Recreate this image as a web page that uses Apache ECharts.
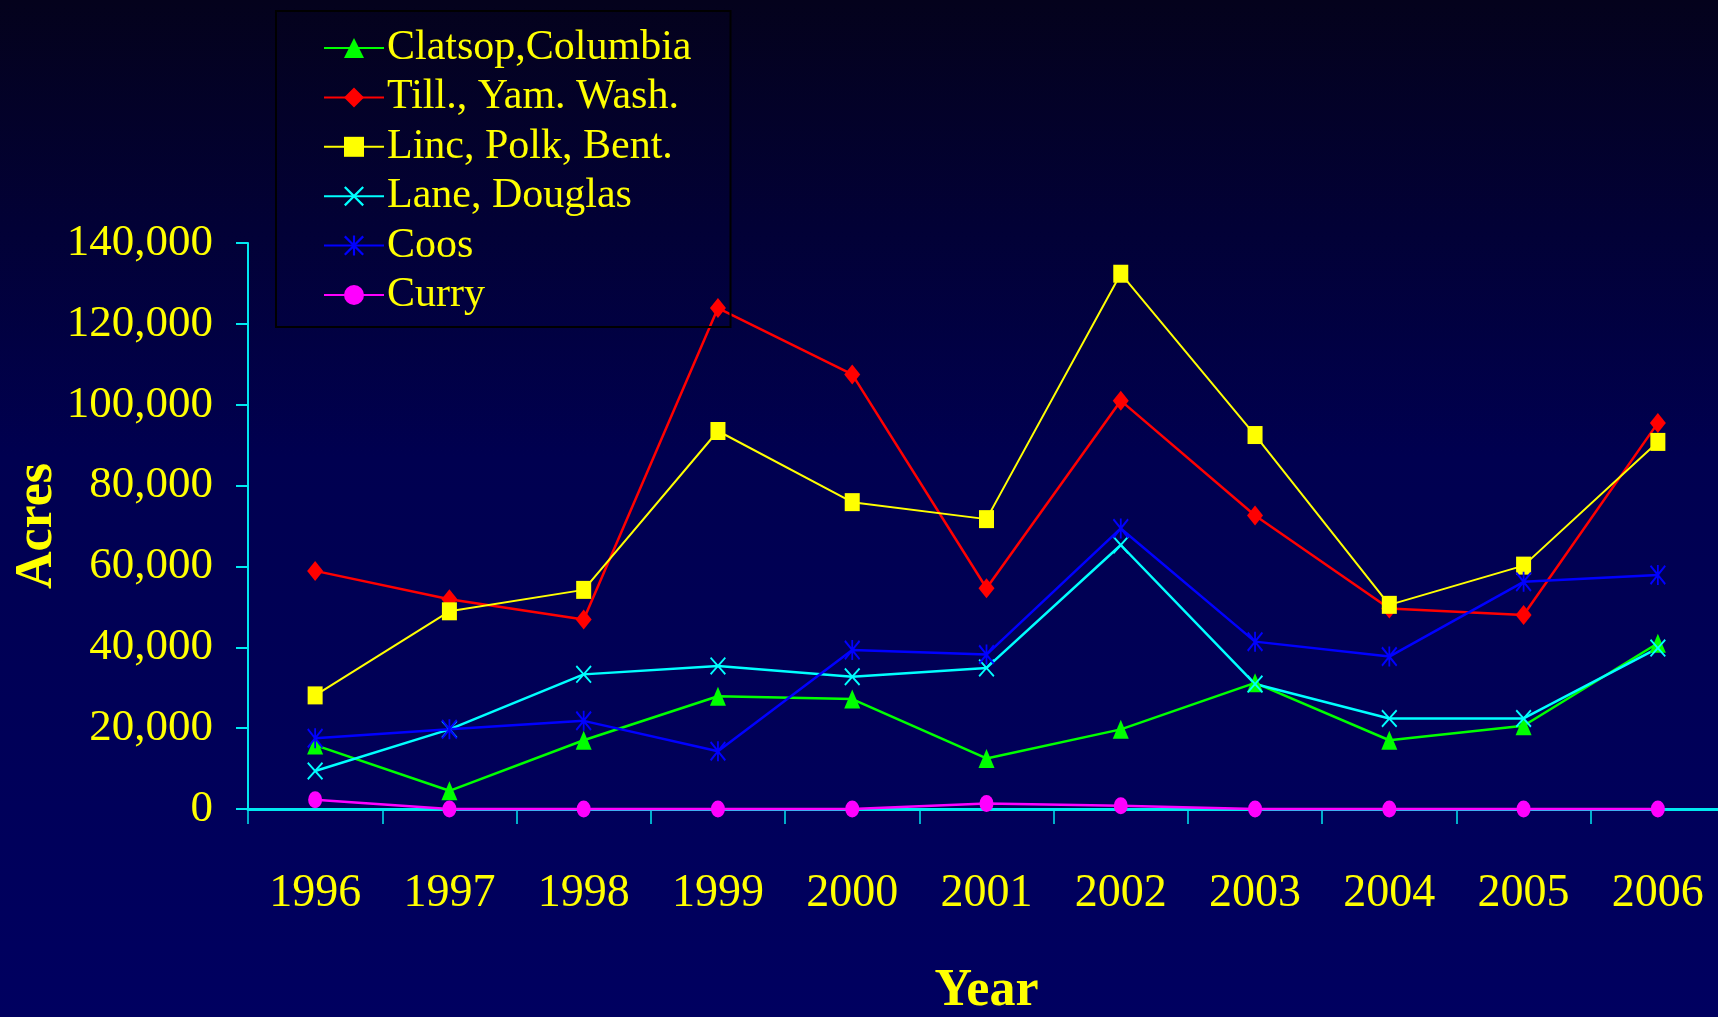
<!DOCTYPE html>
<html>
<head>
<meta charset="utf-8">
<script src="https://cdn.jsdelivr.net/npm/echarts@6/dist/echarts.min.js"></script>
<style>
html,body{margin:0;padding:0;}
#chart{width:1718px;height:1017px;background:linear-gradient(to bottom,#04021c 0%,#000050 45%,#000060 100%);}
</style>
</head>
<body>
<div id="chart"></div>
<script>
const years = ['1996','1997','1998','1999','2000','2001','2002','2003','2004','2005','2006'];
const clatsopColumbia = [15800, 4500, 17000, 27900, 27200, 12500, 19700, 31200, 17000, 20600, 41000];
const tillYamWash = [58900, 51900, 46900, 123900, 107500, 54600, 101000, 72600, 49600, 48000, 95500];
const lincPolkBent = [28100, 48900, 54200, 93500, 75900, 71700, 132400, 92500, 50500, 60200, 90800];
const laneDouglas = [9400, 19700, 33300, 35400, 32700, 34900, 65300, 30900, 22400, 22400, 39800];
const coos = [17500, 19700, 21800, 14300, 39300, 38200, 69400, 41400, 37700, 56200, 57900];
const curry = [2300, 0, 0, 0, 0, 1350, 800, 0, 0, 0, 0];
const yTickLabels = ['0','20,000','40,000','60,000','80,000','100,000','120,000','140,000'];

const FONT = '"Liberation Serif","Times New Roman",serif';
const crossPath = 'path://M0,0.8L0.8,0L5,4.2L9.2,0L10,0.8L5.8,5L10,9.2L9.2,10L5,5.8L0.8,10L0,9.2L4.2,5Z';
const asteriskPath = 'path://M0,0.8L0.8,0L5,4.2L9.2,0L10,0.8L5.8,5L10,9.2L9.2,10L5,5.8L0.8,10L0,9.2L4.2,5Z M4.45,0L5.55,0L5.55,10L4.45,10Z';

function mk(name, data, color, symbol, size, width) {
  return {
    name: name, type: 'line', data: data, symbol: symbol, symbolSize: size,
    clip: false,
    lineStyle: {color: color, width: width},
    itemStyle: {color: color},
    emphasis: {disabled: true}
  };
}

const chart = echarts.init(document.getElementById('chart'));
chart.setOption({
  backgroundColor: 'transparent',
  animation: false,
  textStyle: {fontFamily: FONT},
  legend: {
    orient: 'vertical',
    left: 276, top: 11,
    padding: [16, 39, 11, 47],
    itemGap: 7.4,
    itemWidth: 60,
    itemHeight: 25,
    borderColor: '#000000',
    borderWidth: 2,
    textStyle: {color: '#ffff00', fontFamily: FONT, fontSize: 42, padding: [0,0,0,-2]},
    data: ['Clatsop,Columbia','Till., Yam. Wash.','Linc, Polk, Bent.','Lane, Douglas','Coos','Curry']
  },
  grid: {left: 248, top: 243, width: 1477, height: 566, outerBoundsMode: 'none', containLabel: false},
  xAxis: {
    type: 'category',
    data: years,
    boundaryGap: true,
    name: 'Year',
    nameLocation: 'middle',
    nameGap: 158,
    nameMoveOverlap: false,
    nameTextStyle: {color: '#ffff00', fontFamily: FONT, fontSize: 52, fontWeight: 'bold', lineHeight: 50},
    axisLine: {lineStyle: {color: '#00e8f0', width: 3}},
    axisTick: {show: true, alignWithLabel: false, length: 15, lineStyle: {color: '#00e8f0', width: 1.5}},
    axisLabel: {color: '#ffff00', fontFamily: FONT, fontSize: 46, lineHeight: 46, margin: 62},
    splitLine: {show: false}
  },
  yAxis: {
    type: 'value',
    min: 0, max: 140000, interval: 20000,
    name: 'Acres',
    nameLocation: 'middle',
    nameGap: 184,
    nameMoveOverlap: false,
    nameRotate: 90,
    nameTextStyle: {color: '#ffff00', fontFamily: FONT, fontSize: 52, fontWeight: 'bold'},
    axisLine: {show: true, lineStyle: {color: '#00e8f0', width: 2}},
    axisTick: {show: true, length: 12, lineStyle: {color: '#00e8f0', width: 2}},
    axisLabel: {
      color: '#ffff00', fontFamily: FONT, fontSize: 45, margin: 35,
      formatter: function (v) { return yTickLabels[Math.round(v / 20000)]; }
    },
    splitLine: {show: false}
  },
  series: [
    mk('Clatsop,Columbia', clatsopColumbia, '#00ff00', 'triangle', [16, 19], 2.5),
    mk('Till., Yam. Wash.', tillYamWash, '#ff0000', 'diamond', [16, 20], 2.5),
    mk('Linc, Polk, Bent.', lincPolkBent, '#ffff00', 'rect', [15, 18], 2),
    mk('Lane, Douglas', laneDouglas, '#00ffff', crossPath, [16, 18], 2.5),
    mk('Coos', coos, '#0000ff', asteriskPath, [16, 20], 2.5),
    mk('Curry', curry, '#ff00ff', 'circle', [14, 17], 2.5)
  ]
});
</script>
</body>
</html>
